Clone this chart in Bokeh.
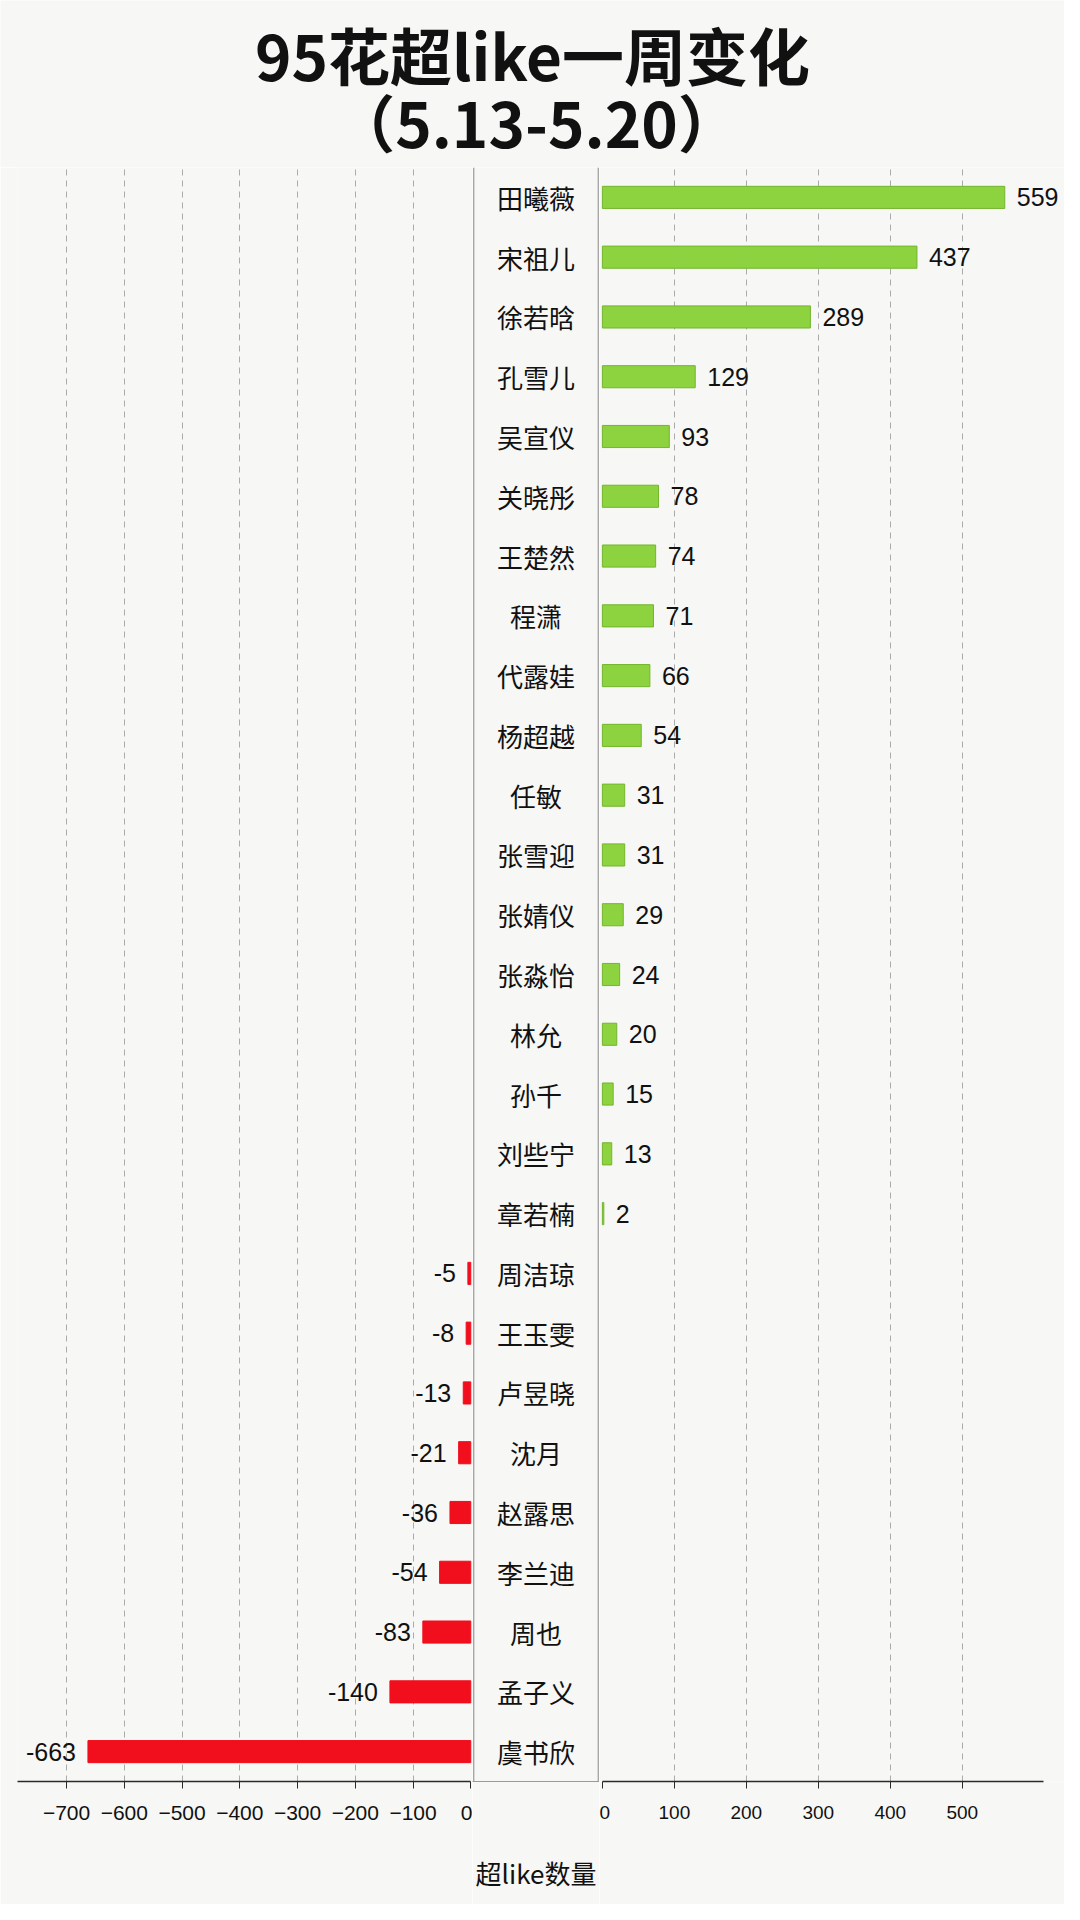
from bokeh.plotting import figure
from bokeh.models import Range1d, FactorRange, FixedTicker, ColumnDataSource, Span
from bokeh.layouts import column, row
from bokeh.embed import file_html
from bokeh.resources import INLINE
from bokeh.core.properties import value

# ---------------- data ----------------
pos_names = ["田曦薇", "宋祖儿", "徐若晗", "孔雪儿", "吴宣仪", "关晓彤", "王楚然", "程潇", "代露娃",
             "杨超越", "任敏", "张雪迎", "张婧仪", "张淼怡", "林允", "孙千", "刘些宁", "章若楠"]
pos_values = [559, 437, 289, 129, 93, 78, 74, 71, 66, 54, 31, 31, 29, 24, 20, 15, 13, 2]
neg_names = ["周洁琼", "王玉雯", "卢昱晓", "沈月", "赵露思", "李兰迪", "周也", "孟子义", "虞书欣"]
neg_values = [-5, -8, -13, -21, -36, -54, -83, -140, -663]
left_ticks = [-700, -600, -500, -400, -300, -200, -100, 0]
right_ticks = [0, 100, 200, 300, 400, 500]
title_lines = ["95花超like一周变化", "（5.13-5.20）"]
x_label = "超like数量"

# ---------------- style ----------------
BG = "#f7f7f5"
GREEN = "#8dd23f"
GREEN_EDGE = "#74b52e"
RED = "#f10f1d"
CJK = "Noto Sans CJK SC"
NUM = "Liberation Sans"
GRID = "#ababab"
FRAME_GRAY = "#9a9a9a"
TOP_H = 167
H = 1737
BOTTOM = 123
BAR_H = 0.37

all_names = pos_names + neg_names
y_range = FactorRange(factors=list(reversed(all_names)))

pos_src = ColumnDataSource(dict(name=pos_names, val=pos_values, label=[str(v) for v in pos_values]))
neg_src = ColumnDataSource(dict(name=neg_names, val=neg_values, label=[str(v) for v in neg_values]))
name_src = ColumnDataSource(dict(name=all_names))


def base(width, x_range, **kw):
    p = figure(width=width, height=H, x_range=x_range, y_range=y_range,
               y_axis_location=None, title_location=None,
               output_backend="svg", toolbar_location=None,
               background_fill_color=BG, border_fill_color=BG,
               outline_line_color=None, min_border_top=0,
               min_border_bottom=BOTTOM, **kw)
    p.ygrid.grid_line_color = None
    return p


def style_axis(ax, ticks, size):
    ax.ticker = FixedTicker(ticks=ticks)
    ax.axis_line_color = "#2a2a2a"
    ax.axis_line_width = 1.3
    ax.major_tick_out = 7
    ax.major_tick_in = 0
    ax.major_tick_line_color = "#2a2a2a"
    ax.minor_tick_line_color = None
    ax.major_label_standoff = 17
    ax.major_label_text_font = NUM
    ax.major_label_text_font_size = size
    ax.major_label_text_color = "#111111"


def style_grid(p, ticks):
    p.xgrid.ticker = FixedTicker(ticks=ticks)
    p.xgrid.grid_line_color = GRID
    p.xgrid.grid_line_dash = "6 5"
    p.xgrid.grid_line_width = 1


# ---------------- left (negative) panel ----------------
left = base(472, Range1d(-785, 3), min_border_left=17, min_border_right=0)
left.hbar(y="name", left="val", right=0, height=BAR_H, source=neg_src,
          fill_color=RED, line_color=RED)
left.text(x="val", y="name", text="label", source=neg_src, x_offset=-12,
          text_align="right", text_baseline="middle", text_font=value(NUM),
          text_font_size="25px", text_color="#111111")
style_grid(left, left_ticks[:-1])
style_axis(left.xaxis[0], left_ticks, "21px")
left.xaxis[0].bounds = (-785, 0)

# ---------------- middle (names) panel ----------------
mid = base(127, Range1d(-0.01, 1.01), min_border_left=0, min_border_right=0)
mid.text(x=0.5, y="name", text="name", source=name_src, text_align="center",
         text_baseline="middle", text_font=value(CJK), text_font_size="26px",
         text_color="#111111")
mid.xgrid.grid_line_color = None
mid.add_layout(Span(location=0, dimension="height", line_color=FRAME_GRAY, line_width=1.2))
mid.add_layout(Span(location=1, dimension="height", line_color=FRAME_GRAY, line_width=1.2))
max_ax = mid.xaxis[0]
max_ax.ticker = FixedTicker(ticks=[])
max_ax.axis_line_color = FRAME_GRAY
max_ax.axis_line_width = 1.2
max_ax.major_tick_out = 0
max_ax.major_tick_in = 0
max_ax.major_label_text_font_size = "0px"
max_ax.axis_label = x_label
max_ax.axis_label_text_font = CJK
max_ax.axis_label_text_font_size = "26px"
max_ax.axis_label_text_font_style = "normal"
max_ax.axis_label_text_color = "#111111"
max_ax.axis_label_standoff = 72

# ---------------- right (positive) panel ----------------
right = base(465, Range1d(-4, 642), min_border_left=0, min_border_right=0)
right.hbar(y="name", left=0, right="val", height=BAR_H, source=pos_src,
           fill_color=GREEN, line_color=GREEN_EDGE, line_width=1)
right.text(x="val", y="name", text="label", source=pos_src, x_offset=12,
           text_align="left", text_baseline="middle", text_font=value(NUM),
           text_font_size="25px", text_color="#111111")
style_grid(right, right_ticks[1:])
style_axis(right.xaxis[0], right_ticks, "19px")
right.xaxis[0].bounds = (0, 613)

# ---------------- title ----------------
top = figure(width=1064, height=TOP_H, x_range=Range1d(0, 1064), y_range=Range1d(0, TOP_H),
             x_axis_location=None, y_axis_location=None, title_location=None,
             output_backend="svg", toolbar_location=None,
             background_fill_color=BG, border_fill_color=BG,
             outline_line_color=None, min_border=0)
top.xgrid.grid_line_color = None
top.ygrid.grid_line_color = None
top.text(x=[532, 536], y=[TOP_H - 53, TOP_H - 120], text=title_lines,
         text_align="center", text_baseline="middle", text_font=value(CJK),
         text_font_style="bold", text_font_size="62px", text_color="#111111")

layout = column(top, row(left, mid, right, spacing=0), spacing=0)

open("out.html", "w").write(file_html(layout, INLINE))
